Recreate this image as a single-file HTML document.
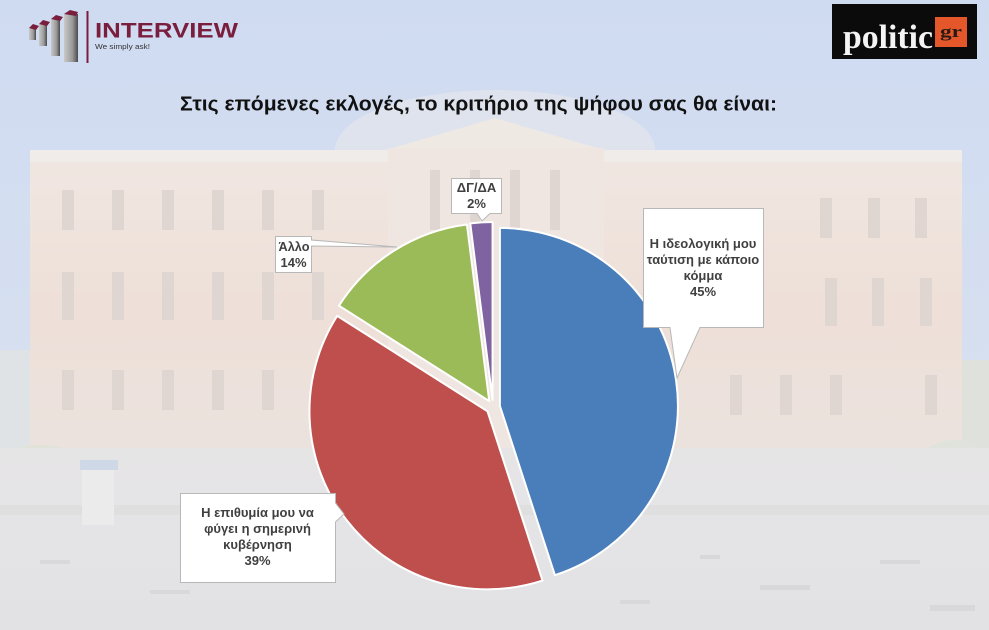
<!DOCTYPE html>
<html><head><meta charset="utf-8"><style>
html,body{margin:0;padding:0;width:989px;height:630px;overflow:hidden;background:#d3def1}
svg{display:block}
</style></head><body>
<svg width="989" height="630" viewBox="0 0 989 630" xmlns="http://www.w3.org/2000/svg">
<defs>
<linearGradient id="sky" x1="0" y1="0" x2="0" y2="1">
<stop offset="0" stop-color="#cfdbf1"/><stop offset="1" stop-color="#dbe3f0"/>
</linearGradient>
<linearGradient id="bld" x1="0" y1="0" x2="0" y2="1">
<stop offset="0" stop-color="#f0e6e1"/><stop offset="0.5" stop-color="#eee0d8"/><stop offset="1" stop-color="#ebe2de"/>
</linearGradient>
<linearGradient id="pav" x1="0" y1="0" x2="0" y2="1">
<stop offset="0" stop-color="#e6e5e6"/><stop offset="1" stop-color="#e2e2e5"/>
</linearGradient>
<linearGradient id="barf" x1="0" y1="0" x2="1" y2="0">
<stop offset="0" stop-color="#c9c9c9"/><stop offset="0.6" stop-color="#9a9a9a"/><stop offset="1" stop-color="#4a4a4a"/>
</linearGradient>
</defs>
<!-- background -->
<rect x="0" y="0" width="989" height="630" fill="url(#sky)"/>
<ellipse cx="495" cy="150" rx="160" ry="60" fill="#e4e6ec" opacity="0.7"/>
<!-- building -->
<rect x="30" y="150" width="932" height="14" fill="#f0ece9"/>
<rect x="30" y="162" width="932" height="290" fill="url(#bld)"/>
<polygon points="386,150 495,118 604,150" fill="#efe9e4"/>
<rect x="388" y="148" width="216" height="300" fill="#efe6e1"/>
<g fill="#e0d6d1">
<rect x="62" y="190" width="12" height="40"/><rect x="112" y="190" width="12" height="40"/><rect x="162" y="190" width="12" height="40"/><rect x="212" y="190" width="12" height="40"/><rect x="262" y="190" width="12" height="40"/><rect x="312" y="190" width="12" height="40"/>
<rect x="62" y="272" width="12" height="48"/><rect x="112" y="272" width="12" height="48"/><rect x="162" y="272" width="12" height="48"/><rect x="212" y="272" width="12" height="48"/><rect x="262" y="272" width="12" height="48"/><rect x="312" y="272" width="12" height="48"/>
<rect x="62" y="370" width="12" height="40"/><rect x="112" y="370" width="12" height="40"/><rect x="162" y="370" width="12" height="40"/><rect x="212" y="370" width="12" height="40"/><rect x="262" y="370" width="12" height="40"/>
<rect x="820" y="198" width="12" height="40"/><rect x="868" y="198" width="12" height="40"/><rect x="915" y="198" width="12" height="40"/>
<rect x="825" y="278" width="12" height="48"/><rect x="872" y="278" width="12" height="48"/><rect x="920" y="278" width="12" height="48"/>
<rect x="730" y="375" width="12" height="40"/><rect x="780" y="375" width="12" height="40"/><rect x="830" y="375" width="12" height="40"/><rect x="925" y="375" width="12" height="40"/>
<rect x="430" y="170" width="10" height="60"/><rect x="470" y="170" width="10" height="60"/><rect x="510" y="170" width="10" height="60"/><rect x="550" y="170" width="10" height="60"/>
</g>
<rect x="962" y="360" width="27" height="100" fill="#dfe2dc"/>
<rect x="0" y="350" width="30" height="110" fill="#e0e3e6"/>
<!-- trees / lower -->
<ellipse cx="40" cy="480" rx="55" ry="35" fill="#dfe3d8"/>
<ellipse cx="955" cy="470" rx="40" ry="30" fill="#e0e2dc"/>
<rect x="0" y="448" width="989" height="182" fill="url(#pav)"/>
<rect x="0" y="505" width="989" height="10" fill="#dcdcdc" opacity="0.6"/>
<rect x="80" y="460" width="38" height="10" fill="#cfd8e6"/>
<rect x="82" y="470" width="32" height="55" fill="#ebebec"/>
<g fill="#d6d6d8" opacity="0.8">
<rect x="40" y="560" width="30" height="4"/><rect x="150" y="590" width="40" height="4"/><rect x="620" y="600" width="30" height="4"/><rect x="760" y="585" width="50" height="5"/><rect x="880" y="560" width="40" height="4"/><rect x="700" y="555" width="20" height="4"/><rect x="930" y="605" width="45" height="6"/>
</g>

<!-- INTERVIEW logo -->
<g>
<rect x="29" y="28" width="7" height="12" fill="url(#barf)"/><polygon points="29,28 33,24 39,26 36,30" fill="#7a1e3e"/>
<rect x="39" y="24" width="8" height="22" fill="url(#barf)"/><polygon points="39,24 43,20 50,22 47,26" fill="#7a1e3e"/>
<rect x="51" y="19" width="9" height="37" fill="url(#barf)"/><polygon points="51,19 56,15 63,17 60,21" fill="#7a1e3e"/>
<rect x="64" y="14" width="14" height="48" fill="url(#barf)"/><polygon points="64,14 70,10 78,12 76,16" fill="#7a1e3e"/>
<rect x="86.5" y="11" width="2" height="52" fill="#7a1e3e"/>
<text x="95" y="37.5" font-family="Liberation Sans, sans-serif" font-weight="bold" font-size="21" fill="#7a1e3e" textLength="143" lengthAdjust="spacingAndGlyphs">INTERVIEW</text>
<text x="95" y="49" font-family="Liberation Sans, sans-serif" font-size="7.5" fill="#333" textLength="55" lengthAdjust="spacingAndGlyphs">We simply ask!</text>
</g>

<!-- politic logo -->
<rect x="832" y="4" width="145" height="55" fill="#0b0b0b"/>
<text x="843" y="48" font-family="Liberation Serif, serif" font-weight="bold" font-size="34" fill="#f4f4f4" textLength="90" lengthAdjust="spacingAndGlyphs">politic</text>
<rect x="935" y="17" width="32" height="30" fill="#e4572a"/>
<text x="940" y="37" font-family="Liberation Serif, serif" font-weight="bold" font-size="17" fill="#2a1a14" textLength="22" lengthAdjust="spacingAndGlyphs">gr</text>

<!-- title -->
<text x="180" y="110.5" font-family="Liberation Sans, 'Noto Sans CJK SC', sans-serif" font-weight="bold" font-size="20.5" fill="#111" textLength="597" lengthAdjust="spacingAndGlyphs">Στις επόμενες εκλογές, το κριτήριο της ψήφου σας θα είναι:</text>

<!-- pie -->
<g stroke="#ffffff" stroke-width="2" stroke-linejoin="round">
<path d="M499.9,405.9 L499.9,227.9 A178,178 0 0 1 554.9,575.2 Z" fill="#4a7ebb"/>
<path d="M487.5,411.3 L542.5,580.6 A178,178 0 0 1 337.2,315.9 Z" fill="#be4f4c"/>
<path d="M489.25,401.1 L338.96,305.7 A178,178 0 0 1 466.94,224.5 Z" fill="#9bbb59"/>
<path d="M492.56,400 L470.25,223.4 A178,178 0 0 1 492.56,222 Z" fill="#7f63a1"/>
</g>

<!-- callouts -->
<g fill="#ffffff" stroke="#b8b8b8" stroke-width="1">
<polygon points="643.5,208.5 763.5,208.5 763.5,327.5 700,327.5 677,378 670,327.5 643.5,327.5"/>
<polygon points="180.5,493.5 335.5,493.5 335.5,503 344,514 335.5,522 335.5,582.5 180.5,582.5"/>
<polygon points="275.5,236.5 311.5,236.5 311.5,240 397,247 311.5,246 311.5,272.5 275.5,272.5"/>
<polygon points="451.5,178.5 501.5,178.5 501.5,213.5 490,213.5 482,221 477,213.5 451.5,213.5"/>
</g>
<g font-family="Liberation Sans, 'Noto Sans CJK SC', sans-serif" font-weight="bold" font-size="13" fill="#404040" text-anchor="middle">
<text x="703" y="248">Η ιδεολογική μου</text>
<text x="703" y="264">ταύτιση με κάποιο</text>
<text x="703" y="280">κόμμα</text>
<text x="703" y="296">45%</text>
<text x="257.5" y="517">Η επιθυμία μου να</text>
<text x="257.5" y="533">φύγει η σημερινή</text>
<text x="257.5" y="549">κυβέρνηση</text>
<text x="257.5" y="565">39%</text>
<text x="294" y="251" textLength="31" lengthAdjust="spacingAndGlyphs">Άλλο</text>
<text x="293.5" y="267">14%</text>
<text x="476.5" y="192">ΔΓ/ΔΑ</text>
<text x="476.5" y="208">2%</text>
</g>
</svg>
</body></html>
